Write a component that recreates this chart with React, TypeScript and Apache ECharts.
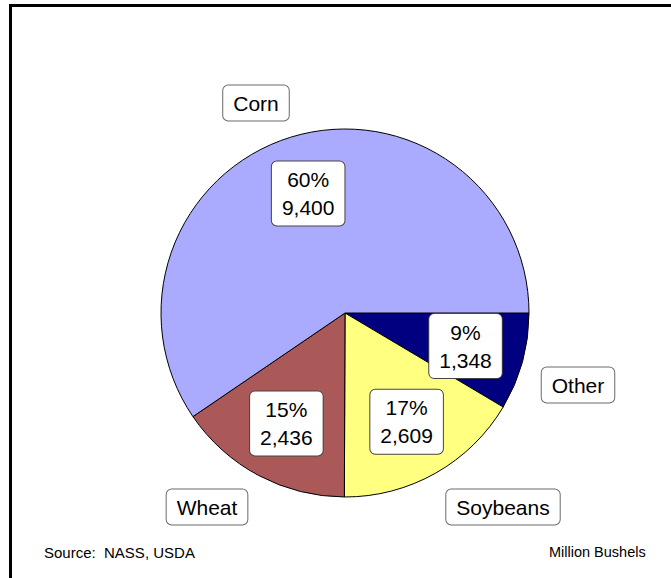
import React, { useEffect, useRef } from "react";
import * as echarts from "echarts";

const categories = ["Other", "Soybeans", "Wheat", "Corn"];
const values = [1348, 2609, 2436, 9400];
const colors = ["#000080", "#FFFF80", "#AA5858", "#AAAAFF"];
const sourceText = "Source:  NASS, USDA";
const unitText = "Million Bushels";

// label box anchor points (centres) for the category-name callouts
const nameLabelPos: Record<string, [number, number]> = {
  Other: [578, 385],
  Soybeans: [503, 507],
  Wheat: [207, 507],
  Corn: [256, 103],
};

const fmt = (v: number) => v.toLocaleString("en-US");
const FONT = "'Liberation Sans', Arial, sans-serif";

export default function App() {
  const ref = useRef<HTMLDivElement>(null);
  useEffect(() => {
    if (!ref.current) return;
    const chart = echarts.init(ref.current, null, { renderer: "svg" });
    const data = categories.map((c, i) => ({
      name: c,
      value: values[i],
      itemStyle: { color: colors[i] },
    }));
    const boxStyle = {
      backgroundColor: "#ffffff",
      borderColor: "#6a6a6a",
      borderWidth: 1,
      borderRadius: 5,
      color: "#000",
      fontFamily: FONT,
      fontSize: 21,
    };
    chart.setOption({
      animation: false,
      backgroundColor: "#ffffff",
      series: [
        {
          type: "pie",
          center: [345, 313],
          radius: [0, 184],
          startAngle: 0,
          clockwise: true,
          silent: true,
          itemStyle: { borderColor: "#000", borderWidth: 1 },
          label: {
            show: true,
            position: "outside",
            formatter: "{b}",
            ...boxStyle,
            lineHeight: 23,
            padding: [6, 10],
          },
          labelLine: { show: false },
          labelLayout: (p: any) => {
            const pos = nameLabelPos[categories[p.dataIndex]];
            return { x: pos[0], y: pos[1], align: "center", verticalAlign: "middle" };
          },
          emphasis: { disabled: true },
          data,
        },
        {
          type: "pie",
          center: [345, 313],
          radius: [60, 184],
          startAngle: 0,
          clockwise: true,
          silent: true,
          percentPrecision: 2,
          itemStyle: { color: "rgba(0,0,0,0)", borderWidth: 0 },
          label: {
            show: true,
            position: "inside",
            formatter: (p: any) => `${Math.round(p.percent)}%\n${fmt(p.value)}`,
            ...boxStyle,
            borderColor: "#444",
            lineHeight: 28,
            padding: [4, 10],
            align: "center",
          },
          labelLine: { show: false },
          emphasis: { disabled: true },
          data: categories.map((c, i) => ({ name: c, value: values[i] })),
        },
      ],
      graphic: [
        {
          type: "line",
          shape: { x1: 9, y1: 5.5, x2: 671, y2: 5.5 },
          style: { stroke: "#000", lineWidth: 3 },
        },
        {
          type: "line",
          shape: { x1: 10.5, y1: 4, x2: 10.5, y2: 578 },
          style: { stroke: "#000", lineWidth: 3 },
        },
        {
          type: "text",
          x: 44,
          y: 552,
          style: {
            text: sourceText,
            fontFamily: FONT,
            fontSize: 15,
            fill: "#000",
            verticalAlign: "middle",
          },
        },
        {
          type: "text",
          x: 549,
          y: 552,
          style: {
            text: unitText,
            fontFamily: FONT,
            fontSize: 14.5,
            fill: "#000",
            verticalAlign: "middle",
          },
        },
      ],
    });
    return () => chart.dispose();
  }, []);
  return (
    <div
      ref={ref}
      style={{ position: "absolute", left: 0, top: 0, width: 671, height: 578 }}
    />
  );
}
